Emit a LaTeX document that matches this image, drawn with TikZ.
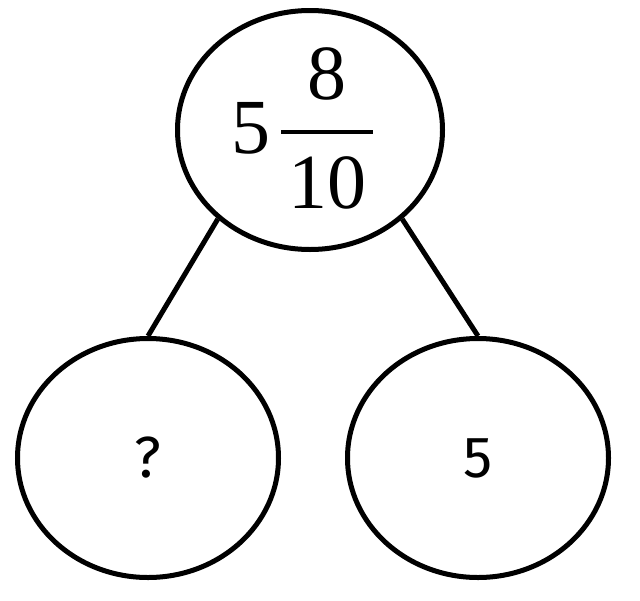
\documentclass[tikz,border=0pt]{standalone}
\usepackage{fontspec}
\setmainfont{Liberation Serif}
\newfontfamily\bubblefont{Fira Sans}
\usepackage{tikz}
\usetikzlibrary{shapes.geometric, positioning}

\tikzset{
  bubble/.style={ellipse, draw, line width=5pt, inner sep=0pt,
    minimum width=261pt, minimum height=239pt},
  part/.style={font=\bubblefont\fontsize{58}{62}\selectfont},
  digit/.style={anchor=base, inner sep=0pt, font=\fontsize{78}{90}\selectfont}
}

\begin{document}
\begin{tikzpicture}[x=1pt, y=-1pt]
      \useasboundingbox (0,0) rectangle (640,600);
      \node[bubble, minimum width=265pt] (whole) at (310,130) {};
      \node[bubble, part] (left) at (148,458) {?};
      \node[bubble, part] (right) at (478,458) {5};
      % mixed number 5 8/10
      \node[digit] (int) at (251,153) {5};
      \node[digit] (num) at (327,99) {8};
      \node[digit] (den) at (327,208) {10};
      \draw[line width=4.5pt] (281,132) -- (373,132);
      \draw[line width=5pt] (whole.224) -- (left.north);
      \draw[line width=5pt] (whole.316) -- (right.north);
    \end{tikzpicture}
\end{document}
